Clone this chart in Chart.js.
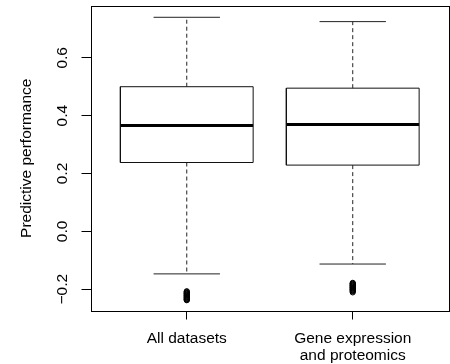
<!DOCTYPE html>
<html>
<head>
<meta charset="utf-8">
<script src="https://cdn.jsdelivr.net/npm/chart.js@4/dist/chart.umd.min.js"></script>
<style>
html,body{margin:0;padding:0;background:#fff;overflow:hidden;width:450px;height:364px;}
canvas{display:block;}
</style>
</head>
<body>
<canvas id="c" width="454" height="364" style="width:454px;height:364px"></canvas>
<script>
// Data
const categories = ['All datasets', ['Gene expression', 'and proteomics']];
const positions = [1, 2];
const whiskerLow = [-0.147, -0.113];
const q1 = [0.238, 0.229];
const median = [0.366, 0.369];
const q3 = [0.500, 0.495];
const whiskerHigh = [0.740, 0.725];
const outliersAll = [-0.207, -0.209, -0.211, -0.213, -0.214, -0.216, -0.218, -0.220, -0.221, -0.223,
                     -0.225, -0.227, -0.228, -0.230, -0.232, -0.234, -0.235, -0.237, -0.238];
const outliersGene = [-0.178, -0.180, -0.181, -0.183, -0.185, -0.187, -0.188, -0.190, -0.192, -0.194,
                      -0.195, -0.197, -0.199, -0.201, -0.202, -0.204, -0.206, -0.208, -0.211];
const yTicks = [-0.2, 0.0, 0.2, 0.4, 0.6];
const yTitle = 'Predictive performance';

const BOX_HALF = 0.4, CAP_HALF = 0.2;

const boxPts = [], whiskPts = [], capPts = [], medPts = [];
positions.forEach((c, i) => {
  boxPts.push({x: c - BOX_HALF, y: q1[i]}, {x: c + BOX_HALF, y: q1[i]}, {x: c + BOX_HALF, y: q3[i]},
              {x: c - BOX_HALF, y: q3[i]}, {x: c - BOX_HALF, y: q1[i]}, {x: c, y: null});
  whiskPts.push({x: c, y: q3[i]}, {x: c, y: whiskerHigh[i]}, {x: c, y: null},
                {x: c, y: q1[i]}, {x: c, y: whiskerLow[i]}, {x: c, y: null});
  capPts.push({x: c - CAP_HALF, y: whiskerHigh[i]}, {x: c + CAP_HALF, y: whiskerHigh[i]}, {x: c, y: null},
              {x: c - CAP_HALF, y: whiskerLow[i]}, {x: c + CAP_HALF, y: whiskerLow[i]}, {x: c, y: null});
  medPts.push({x: c - BOX_HALF, y: median[i]}, {x: c + BOX_HALF, y: median[i]}, {x: c, y: null});
});
const outPts = outliersAll.map(v => ({x: positions[0], y: v})).concat(outliersGene.map(v => ({x: positions[1], y: v})));

const FONT = {family: '"Liberation Sans", Arial, Helvetica, sans-serif', size: 15.5};

const frame = {
  id: 'frame',
  afterDraw(chart) {
    const a = chart.chartArea, ctx = chart.ctx;
    ctx.save();
    ctx.strokeStyle = '#000';
    ctx.lineWidth = 1;
    const l = Math.round(a.left) + 0.5, t = Math.round(a.top) + 0.5;
    const r = Math.round(a.right) + 0.5, b = Math.round(a.bottom) + 0.5;
    ctx.strokeRect(l, t, r - l, b - t);
    ctx.restore();
  }
};

const lineDs = (data, extra) => Object.assign({
  data, showLine: true, spanGaps: false, pointRadius: 0, pointHoverRadius: 0,
  borderColor: '#000', borderWidth: 1, backgroundColor: 'transparent', fill: false
}, extra);

const zeroPad = s => { s.paddingTop = 0; s.paddingBottom = 0; s.paddingLeft = 0; s.paddingRight = 0; };

new Chart(document.getElementById('c'), {
  type: 'scatter',
  data: {
    datasets: [
      lineDs(whiskPts, {borderDash: [4, 3], borderColor: '#222'}),
      lineDs(capPts, {borderColor: '#222'}),
      lineDs(boxPts, {borderColor: '#111'}),
      lineDs(medPts, {borderWidth: 3}),
      {data: outPts, showLine: false, pointRadius: 2.6, pointBorderWidth: 1,
       pointBorderColor: '#000', pointBackgroundColor: 'transparent', pointStyle: 'circle'}
    ]
  },
  plugins: [frame],
  options: {
    responsive: false,
    animation: false,
    events: [],
    layout: {padding: {left: 0, top: 6, right: 0.5, bottom: 0}},
    plugins: {legend: {display: false}, tooltip: {enabled: false}},
    scales: {
      x: {
        type: 'linear', min: 0.42, max: 2.58,
        afterBuildTicks: s => { s.ticks = positions.map(v => ({value: v})); },
        afterFit: s => { s.height = 53.5; zeroPad(s); },
        border: {display: false},
        grid: {display: true, drawOnChartArea: false, drawTicks: true, tickLength: 9, color: '#000'},
        ticks: {
          color: '#000', font: Object.assign({lineHeight: 1.1}, FONT), padding: 11,
          maxRotation: 0, minRotation: 0, autoSkip: false,
          callback: (v) => { const i = positions.indexOf(v); return i >= 0 ? categories[i] : ''; }
        }
      },
      y: {
        type: 'linear', min: -0.2736, max: 0.779,
        afterBuildTicks: s => { s.ticks = yTicks.map(v => ({value: v})); },
        afterFit: s => { s.width = 90.5; zeroPad(s); },
        border: {display: false},
        grid: {display: true, drawOnChartArea: false, drawTicks: true, tickLength: 9, color: '#000'},
        ticks: {
          color: '#000', font: FONT, padding: 3, minRotation: 90, maxRotation: 90,
          crossAlign: 'center', autoSkip: false,
          callback: (v) => (v < 0 ? '\u2212' : '') + Math.abs(v).toFixed(1)
        },
        title: {display: true, text: yTitle, color: '#000', font: FONT, padding: {top: 17, bottom: 0}}
      }
    }
  }
});
</script>
</body>
</html>
